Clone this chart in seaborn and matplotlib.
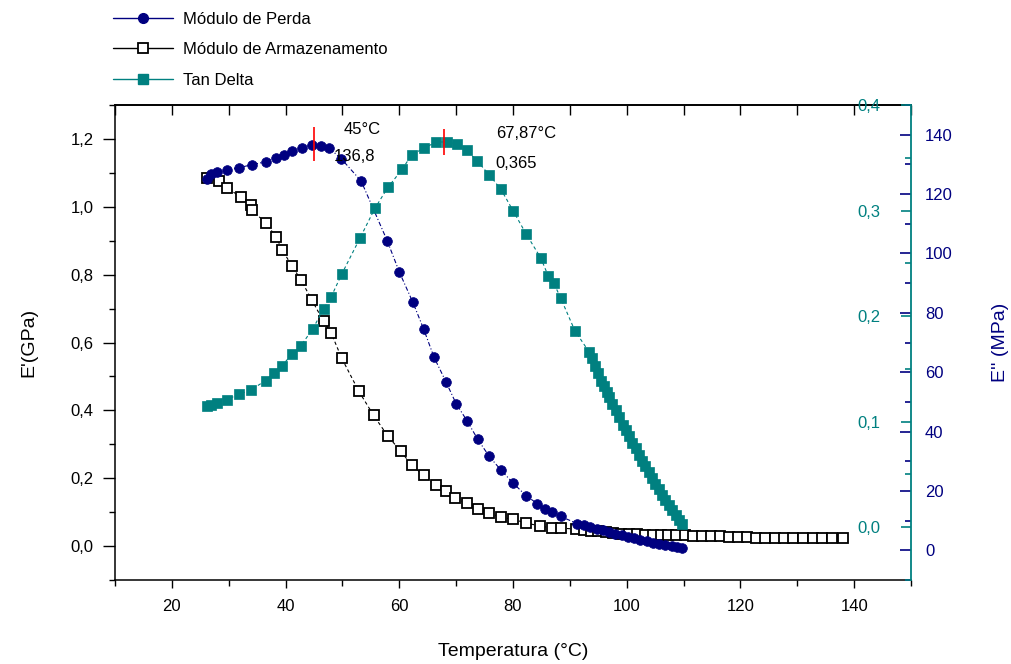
import matplotlib
matplotlib.use('Agg')
import matplotlib.pyplot as plt
from matplotlib.ticker import MultipleLocator, FuncFormatter
from matplotlib.lines import Line2D
import seaborn as sns

# Módulo de Armazenamento E' (GPa)
temp_arm = [26.2, 28.3, 29.7, 32.1, 33.9, 34.1, 36.5, 38.3, 39.4, 41.1, 42.7, 44.6,
            46.7, 48.0, 49.9, 52.9, 55.5, 58.0, 60.3, 62.2, 64.3, 66.5, 68.2, 69.8,
            71.9, 73.8, 75.8, 77.9, 80.0, 82.3, 84.8, 86.9, 88.4, 91.1, 92.5, 93.8,
            95.0, 96.3, 97.6, 99.0, 100.4, 101.8, 103.2, 104.6, 106.0, 107.3, 108.7,
            110.2, 111.7, 113.2, 114.8, 116.4, 118.0, 119.6, 121.2, 122.8, 124.4,
            126.0, 127.6, 129.3, 131.0, 132.7, 134.4, 136.1, 138.1]
e_arm = [1.085, 1.075, 1.055, 1.030, 1.005, 0.990, 0.953, 0.912, 0.874, 0.826, 0.785, 0.726,
         0.662, 0.629, 0.553, 0.456, 0.385, 0.324, 0.279, 0.238, 0.209, 0.179, 0.162, 0.141,
         0.126, 0.109, 0.097, 0.085, 0.079, 0.068, 0.059, 0.053, 0.053, 0.050, 0.047, 0.045,
         0.043, 0.041, 0.039, 0.037, 0.036, 0.035, 0.034, 0.034, 0.033, 0.033, 0.032,
         0.032, 0.031, 0.031, 0.030, 0.029, 0.027, 0.026, 0.026, 0.025, 0.025,
         0.025, 0.025, 0.025, 0.024, 0.024, 0.024, 0.024, 0.024]

# Módulo de Perda E'' (MPa)
temp_perda = [26.2, 26.9, 27.9, 29.7, 31.8, 34.1, 36.5, 38.3, 39.7, 41.1, 42.9, 44.6,
              46.2, 47.6, 49.8, 53.3, 57.9, 60.0, 62.4, 64.3, 66.1, 68.2, 70.0, 71.9,
              73.8, 75.8, 77.9, 80.0, 82.3, 84.3, 85.6, 86.8, 88.4, 91.3, 92.5, 93.6,
              94.7, 95.8, 96.9, 98.0, 99.1, 100.2, 101.3, 102.4, 103.5, 104.6, 105.7,
              106.8, 107.9, 108.9, 109.8]
e_perda = [125.2, 126.9, 127.5, 128.2, 128.9, 129.9, 130.9, 132.2, 133.2, 134.6, 135.6, 136.6,
           136.2, 135.6, 131.9, 124.4, 104.2, 93.8, 83.5, 74.5, 65.1, 56.8, 49.4, 43.7,
           37.4, 31.7, 27.0, 22.7, 18.4, 15.7, 14.0, 13.0, 11.4, 9.0, 8.4, 7.8,
           7.2, 6.7, 6.1, 5.6, 5.0, 4.5, 4.0, 3.5, 3.0, 2.6, 2.2,
           1.8, 1.4, 1.0, 0.7]

# Tan Delta
temp_tan = [26.2, 26.9, 27.9, 29.7, 31.8, 33.9, 36.5, 37.9, 39.4, 41.1, 42.7, 44.8,
            46.7, 48.0, 49.9, 53.1, 55.7, 58.0, 60.5, 62.2, 64.3, 66.5, 68.4, 70.1,
            71.9, 73.7, 75.8, 77.9, 80.0, 82.3, 84.9, 86.2, 87.2, 88.4, 90.9, 93.4,
            93.9, 94.4, 94.9, 95.5, 96.0, 96.5, 96.9, 97.5, 98.1, 98.7, 99.3, 99.8,
            100.4, 101.0, 101.6, 102.1, 102.7, 103.3, 103.9, 104.5, 105.0, 105.6,
            106.2, 106.8, 107.4, 108.0, 108.6, 109.2, 109.7]
tan_delta = [0.115, 0.116, 0.118, 0.121, 0.126, 0.130, 0.139, 0.146, 0.153, 0.164, 0.172, 0.188,
             0.207, 0.218, 0.240, 0.274, 0.302, 0.322, 0.339, 0.353, 0.359, 0.365, 0.365, 0.363,
             0.357, 0.347, 0.334, 0.320, 0.300, 0.278, 0.255, 0.238, 0.231, 0.217, 0.186, 0.166,
             0.160, 0.153, 0.146, 0.139, 0.134, 0.128, 0.123, 0.117, 0.111, 0.104, 0.097, 0.092,
             0.086, 0.080, 0.075, 0.068, 0.063, 0.058, 0.052, 0.047, 0.041, 0.036,
             0.031, 0.026, 0.021, 0.016, 0.012, 0.007, 0.003]

# picos marcados
pico_perda_temp = 45
pico_perda_val = 136.8
pico_tan_temp = 67.87
pico_tan_val = 0.365

NAVY = '#000080'
TEAL = '#008080'
FS = 12
MS = 7

sns.set_theme(style='white')
plt.rcParams['font.family'] = ['Liberation Sans', 'DejaVu Sans']
plt.rcParams['text.color'] = 'black'
plt.rcParams['axes.labelcolor'] = 'black'
plt.rcParams['xtick.color'] = 'black'
plt.rcParams['ytick.color'] = 'black'


def virgula(fmt):
    return FuncFormatter(lambda v, p: fmt.format(v).replace('.', ','))


fig = plt.figure(figsize=(10.12, 6.64), dpi=100)
ax = fig.add_axes([0.1136, 0.1265, 0.7866, 0.7153])
ax2 = ax.twinx()
ax3 = ax.twinx()

sns.lineplot(x=temp_arm, y=e_arm, ax=ax, sort=False, estimator=None, color='black',
             linestyle=(0, (3, 2.5)), linewidth=0.8, marker='s', markersize=MS - 0.5,
             markerfacecolor='white', markeredgecolor='black', markeredgewidth=1.3)
sns.lineplot(x=temp_tan, y=tan_delta, ax=ax3, sort=False, estimator=None, color=TEAL,
             linestyle=(0, (3, 2.5)), linewidth=0.8, marker='s', markersize=MS,
             markerfacecolor=TEAL, markeredgecolor=TEAL, markeredgewidth=0.5)
sns.lineplot(x=temp_perda, y=e_perda, ax=ax2, sort=False, estimator=None, color=NAVY,
             linestyle=(0, (4, 2, 1, 2)), linewidth=0.8, marker='o', markersize=MS,
             markerfacecolor=NAVY, markeredgecolor=NAVY, markeredgewidth=0.5)

# eixo x
ax.set_xlim(10, 150)
ax.xaxis.set_major_locator(MultipleLocator(20))
ax.xaxis.set_minor_locator(MultipleLocator(10))
ax.tick_params(axis='x', which='major', direction='out', length=5.5, width=1,
               color='black', labelcolor='black', labelsize=FS, pad=8, bottom=True)
ax.tick_params(axis='x', which='minor', direction='out', length=4, width=1,
               color='black', bottom=True)
ax.set_xlabel('Temperatura (°C)', fontsize=14, labelpad=21, color='black')

topo = ax.secondary_xaxis('top')
topo.xaxis.set_major_locator(MultipleLocator(10))
topo.tick_params(direction='in', length=7, width=1, labeltop=False, color='black')
topo.spines['top'].set_color('black')

# eixo E'
ax.set_ylim(-0.1, 1.3)
ax.yaxis.set_major_locator(MultipleLocator(0.2))
ax.yaxis.set_minor_locator(MultipleLocator(0.1))
ax.yaxis.set_major_formatter(virgula('{:.1f}'))
ax.tick_params(axis='y', which='major', direction='out', length=8.5, width=1,
               color='black', labelcolor='black', labelsize=FS, pad=7, left=True)
ax.tick_params(axis='y', which='minor', direction='out', length=4, width=1,
               color='black', left=True)
ax.set_ylabel("E'(GPa)", fontsize=14, labelpad=24, color='black')

for s in ['left', 'bottom', 'top']:
    ax.spines[s].set_color('black')
    ax.spines[s].set_linewidth(1.1)
ax.spines['right'].set_visible(False)

# eixo E''
ax2.set_ylim(-10, 150)
ax2.yaxis.set_major_locator(MultipleLocator(20))
ax2.yaxis.set_minor_locator(MultipleLocator(10))
ax2.tick_params(axis='y', which='major', direction='in', length=8, width=1.2,
                color=NAVY, labelcolor=NAVY, labelsize=FS, pad=10)
ax2.tick_params(axis='y', which='minor', direction='in', length=4, width=1.2, color=NAVY)
ax2.set_ylabel("E'' (MPa)", fontsize=14, color=NAVY, labelpad=28)
for s in ['left', 'bottom', 'top']:
    ax2.spines[s].set_visible(False)
ax2.spines['right'].set_color(TEAL)
ax2.spines['right'].set_linewidth(1.3)

# eixo Tan Delta (rótulos dentro do gráfico)
ax3.set_ylim(-0.05, 0.4)
ax3.yaxis.set_ticks_position('left')
ax3.yaxis.set_label_position('left')
ax3.spines['left'].set_position(('axes', 1.0))
for s in ax3.spines:
    ax3.spines[s].set_visible(False)
ax3.yaxis.set_major_locator(MultipleLocator(0.1))
ax3.yaxis.set_minor_locator(MultipleLocator(0.05))
ax3.yaxis.set_major_formatter(virgula('{:.1f}'))
ax3.tick_params(axis='y', which='major', direction='out', length=7, width=1.2,
                color=TEAL, labelcolor=TEAL, labelsize=FS, pad=15)
ax3.tick_params(axis='y', which='minor', direction='out', length=4, width=1.2, color=TEAL)
ax3.set_ylabel('')

for a in (ax, ax2, ax3):
    a.grid(False)
    leg = a.get_legend()
    if leg is not None:
        leg.remove()

# marcação dos picos
ax2.vlines(pico_perda_temp, pico_perda_val - 5.8, pico_perda_val + 5.8, color='red', linewidth=1.2)
ax2.text(pico_perda_temp + 5.3, pico_perda_val + 5.1, '45°C', fontsize=FS, va='center')
ax2.text(pico_perda_temp + 3.5, pico_perda_val - 4.2, '136,8', fontsize=FS, va='center')
ax3.vlines(pico_tan_temp, pico_tan_val - 0.0125, pico_tan_val + 0.0125, color='red', linewidth=1.2)
ax3.text(pico_tan_temp + 9.1, pico_tan_val + 0.008, '67,87°C', fontsize=FS, va='center')
ax3.text(pico_tan_temp + 9.1, pico_tan_val - 0.020, '0,365', fontsize=FS, va='center')

# legenda
handles = [
    Line2D([], [], color=NAVY, lw=1, marker='o', markersize=MS, markerfacecolor=NAVY,
           markeredgecolor=NAVY),
    Line2D([], [], color='black', lw=1, marker='s', markersize=MS - 0.5, markerfacecolor='white',
           markeredgecolor='black', markeredgewidth=1.3),
    Line2D([], [], color=TEAL, lw=1, marker='s', markersize=MS, markerfacecolor=TEAL,
           markeredgecolor=TEAL),
]
labels = ['Módulo de Perda', 'Módulo de Armazenamento', 'Tan Delta']
fig.legend(handles, labels, loc='upper left', bbox_to_anchor=(0.1117, 0.982),
           frameon=False, fontsize=FS, handlelength=3.6, handletextpad=0.6,
           labelspacing=0.92, borderaxespad=0, borderpad=0)

fig.savefig('out.png', dpi=100)
